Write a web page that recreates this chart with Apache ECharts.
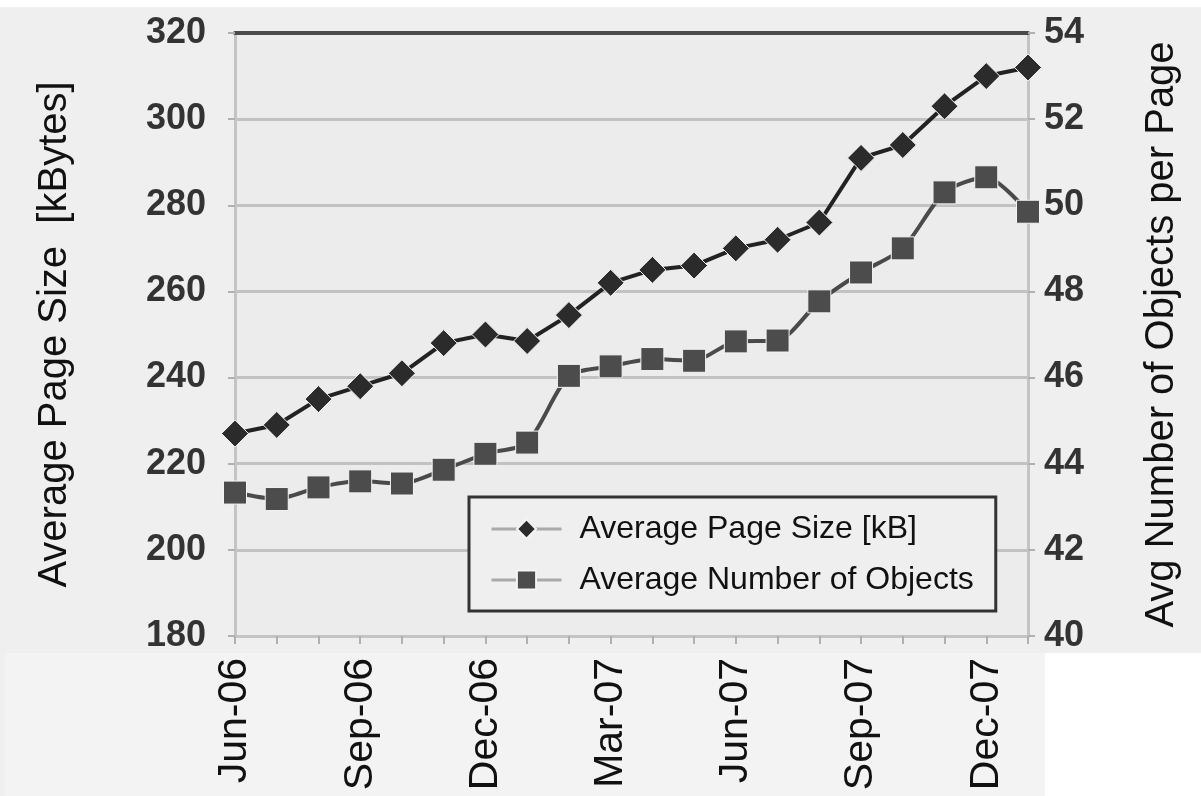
<!DOCTYPE html>
<html>
<head>
<meta charset="utf-8">
<script src="https://cdn.jsdelivr.net/npm/echarts@6/dist/echarts.min.js"></script>
<style>
  html, body { margin: 0; padding: 0; background: #ffffff; }
  #chart { width: 1201px; height: 796px; }
</style>
</head>
<body>
<div id="chart"></div>
<script>
// Monthly samples, June 2006 to January 2008
const months = [
  'Jun-06', 'Jul-06', 'Aug-06', 'Sep-06', 'Oct-06', 'Nov-06', 'Dec-06',
  'Jan-07', 'Feb-07', 'Mar-07', 'Apr-07', 'May-07', 'Jun-07', 'Jul-07',
  'Aug-07', 'Sep-07', 'Oct-07', 'Nov-07', 'Dec-07', 'Jan-08'
];

// Average page size in kB (left axis)
const pageSizeKB = [
  227, 229, 235, 238, 241, 248, 250,
  248.5, 254.5, 262, 265, 266, 270, 272,
  276, 291, 294, 303, 310, 312
];

// Average number of objects per page (right axis)
const objectsPerPage = [
  43.33, 43.18, 43.45, 43.59, 43.54, 43.86, 44.23,
  44.49, 46.04, 46.26, 46.43, 46.39, 46.84, 46.86,
  47.77, 48.44, 49.0, 50.3, 50.65, 49.85
];

// Axis ranges
const sizeAxis = { min: 180, max: 320, step: 20 };
const objectAxis = { min: 40, max: 54, step: 2 };

const FONT = 'Liberation Sans, Arial, sans-serif';

const chart = echarts.init(document.getElementById('chart'), null, { renderer: 'canvas' });

const gridLine = { color: '#c2c2c2', width: 3 };

chart.setOption({
  backgroundColor: '#efefef',
  animation: false,
  graphic: [
    // white strip along the top edge
    { type: 'rect', z: -10, shape: { x: 0, y: 0, width: 1201, height: 7 }, style: { fill: '#ffffff' } },
    // lighter band under the plot holding the month labels
    { type: 'rect', z: -10, shape: { x: 5, y: 653, width: 1040, height: 143 }, style: { fill: '#f3f3f3' } },
    { type: 'rect', z: -10, shape: { x: 1045, y: 653, width: 156, height: 143 }, style: { fill: '#ffffff' } }
  ],
  grid: {
    left: 235, right: 173, top: 33, bottom: 160,
    show: true, backgroundColor: '#ececec', borderWidth: 0
  },
  legend: {
    orient: 'vertical',
    left: 469, top: 497,
    padding: [16, 22, 15, 21],
    itemGap: 19,
    itemWidth: 70,
    itemHeight: 24,
    borderColor: '#333333',
    borderWidth: 3,
    backgroundColor: '#efefef',
    lineStyle: { color: '#a9a9a9', width: 3 },
    textStyle: { fontFamily: FONT, fontSize: 32, color: '#111111', padding: [0, 0, 0, 13] },
    data: ['Average Page Size [kB]', 'Average Number of Objects']
  },
  xAxis: [
    {
      type: 'category',
      data: months,
      boundaryGap: false,
      axisLine: { lineStyle: { color: '#c4c4c4', width: 3 } },
      axisTick: { show: true, interval: 0, length: 8, lineStyle: { color: '#b0b0b0', width: 2 } },
      axisLabel: {
        interval: 2, rotate: 90, margin: 22,
        fontFamily: FONT, fontSize: 41, color: '#111111'
      },
      splitLine: { show: false }
    },
    {
      // dark rule along the top of the plot
      type: 'category',
      data: months,
      position: 'top',
      boundaryGap: false,
      axisLine: { lineStyle: { color: '#4a4a4a', width: 4 } },
      axisTick: { show: false },
      axisLabel: { show: false },
      splitLine: { show: false }
    }
  ],
  yAxis: [
    {
      type: 'value',
      position: 'left',
      min: sizeAxis.min, max: sizeAxis.max, interval: sizeAxis.step,
      name: 'Average Page Size  [kBytes]',
      nameLocation: 'middle',
      nameRotate: 90,
      nameGap: 160,
      nameTextStyle: { fontFamily: FONT, fontSize: 40, color: '#111111' },
      axisLine: { show: true, lineStyle: { color: '#c4c4c4', width: 3 } },
      axisTick: { show: true, length: 7, lineStyle: { color: '#b0b0b0', width: 2 } },
      axisLabel: { margin: 29, fontFamily: FONT, fontSize: 36, fontWeight: 'bold', color: '#333333' },
      splitLine: { lineStyle: gridLine }
    },
    {
      type: 'value',
      position: 'right',
      min: objectAxis.min, max: objectAxis.max, interval: objectAxis.step,
      name: 'Avg Number of Objects per Page',
      nameLocation: 'middle',
      nameRotate: 90,
      nameGap: 114,
      nameTextStyle: { fontFamily: FONT, fontSize: 40, color: '#111111' },
      axisLine: { show: true, lineStyle: { color: '#c4c4c4', width: 3 } },
      axisTick: { show: true, length: 7, lineStyle: { color: '#b0b0b0', width: 2 } },
      axisLabel: { margin: 16, fontFamily: FONT, fontSize: 36, fontWeight: 'bold', color: '#333333' },
      splitLine: { show: false }
    }
  ],
  series: [
    {
      name: 'Average Page Size [kB]',
      type: 'line',
      xAxisIndex: 0,
      yAxisIndex: 0,
      data: pageSizeKB,
      showAllSymbol: true,
      symbol: 'diamond',
      symbolSize: [27, 27],
      lineStyle: { color: '#222222', width: 4 },
      itemStyle: { color: '#2b2b2b', borderColor: '#f4f4f4', borderWidth: 1 },
      z: 4
    },
    {
      name: 'Average Number of Objects',
      type: 'line',
      xAxisIndex: 0,
      yAxisIndex: 1,
      data: objectsPerPage,
      showAllSymbol: true,
      smooth: 0.25,
      symbol: 'rect',
      symbolSize: 23,
      lineStyle: { color: '#4a4a4a', width: 4 },
      itemStyle: { color: '#4c4c4c', borderColor: '#f4f4f4', borderWidth: 1 },
      z: 3
    }
  ]
});
</script>
</body>
</html>
